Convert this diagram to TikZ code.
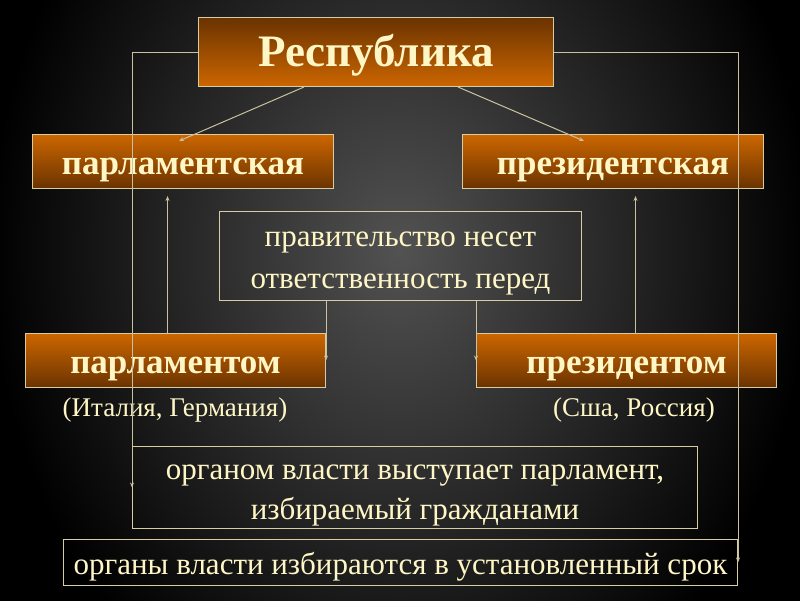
\documentclass[tikz,border=0pt]{standalone}
\usepackage{fontspec}
\setmainfont{Liberation Serif}
\usetikzlibrary{arrows.meta}
\definecolor{cream}{HTML}{FFF6C6}
\definecolor{edgec}{HTML}{D8CCA4}
\definecolor{orangeT}{HTML}{CC6600}
\definecolor{orangeD}{HTML}{6A3300}
\definecolor{linec}{HTML}{C9C1A0}
\definecolor{bgmid}{HTML}{525252}
\newcommand\mystrut{\rule{0pt}{30pt}}
\begin{document}
\begin{tikzpicture}[x=1pt,y=-1pt,
  obox/.style={draw=edgec, line width=1pt, text=cream, inner sep=0pt, anchor=north west,
    font=\bfseries\fontsize{35}{40}\selectfont, text height=32.5pt, text depth=7.5pt},
  odown/.style={obox, top color=orangeT, bottom color=orangeD},
  oup/.style={obox, top color=orangeD, bottom color=orangeT},
  dbox/.style={draw=edgec, line width=1pt, text=cream, inner sep=0pt, anchor=north west,
    align=center, font=\fontsize{31}{42}\selectfont},
  lbl/.style={text=cream, font=\fontsize{27}{30}\selectfont},
  conn/.style={draw=linec, line width=1pt},
  arr/.style={conn, -{Stealth[length=5pt,width=4pt]}}
]
\useasboundingbox (0,0) rectangle (800,600);
\begin{scope}
\clip (0,0) rectangle (800,600);
\shade[inner color=bgmid, outer color=black] (-10,-260) rectangle (810,760);
\end{scope}

\node[oup, minimum width=355pt, minimum height=69pt, font=\bfseries\fontsize{45}{50}\selectfont, text height=37pt, text depth=9pt] (rep) at (198,17) {Республика};
\node[odown, minimum width=301pt, minimum height=54pt] (parlsk) at (32,134) {парламентская};
\node[odown, minimum width=301pt, minimum height=54pt] (prezsk) at (462,134) {президентская};
\node[dbox, minimum width=362pt, minimum height=89pt] (prav) at (219,211) {\mystrut правительство несет\\ответственность перед};
\node[odown, minimum width=300pt, minimum height=54pt] (parlm) at (25,333) {парламентом};
\node[odown, minimum width=300pt, minimum height=54pt] (prezm) at (476,333) {президентом};
\node[lbl] (ital) at (175,410) {(Италия, Германия)};
\node[lbl] (ssha) at (634,410) {(Сша, Россия)};
\node[dbox, minimum width=565pt, minimum height=82pt, font=\fontsize{31}{40}\selectfont] (org) at (132,446) {\mystrut органом власти выступает парламент,\\избираемый гражданами};
\node[dbox, minimum width=674pt, minimum height=46pt] (srok) at (63,539) {\mystrut органы власти избираются в установленный срок};

\draw[arr] (rep.west) -| (org.west);
\draw[arr] (rep.east) -| (srok.east);
\draw[arr] ([xshift=-72pt]rep.south) -- ([xshift=-4pt,yshift=-7pt]parlsk.north);
\draw[arr] ([xshift=82pt]rep.south) -- ([xshift=-29pt,yshift=-7pt]prezsk.north);
\draw[arr] (prav.south -| parlm.east) -- (parlm.east);
\draw[arr] (prav.south -| prezm.west) -- (prezm.west);
\draw[arr, shorten >=7pt] ([xshift=-8pt]parlm.north) -- ([xshift=-8pt]parlm.north |- parlsk.south);
\draw[arr, shorten >=7pt] ([xshift=9pt]prezm.north) -- ([xshift=9pt]prezm.north |- prezsk.south);
\end{tikzpicture}
\end{document}
